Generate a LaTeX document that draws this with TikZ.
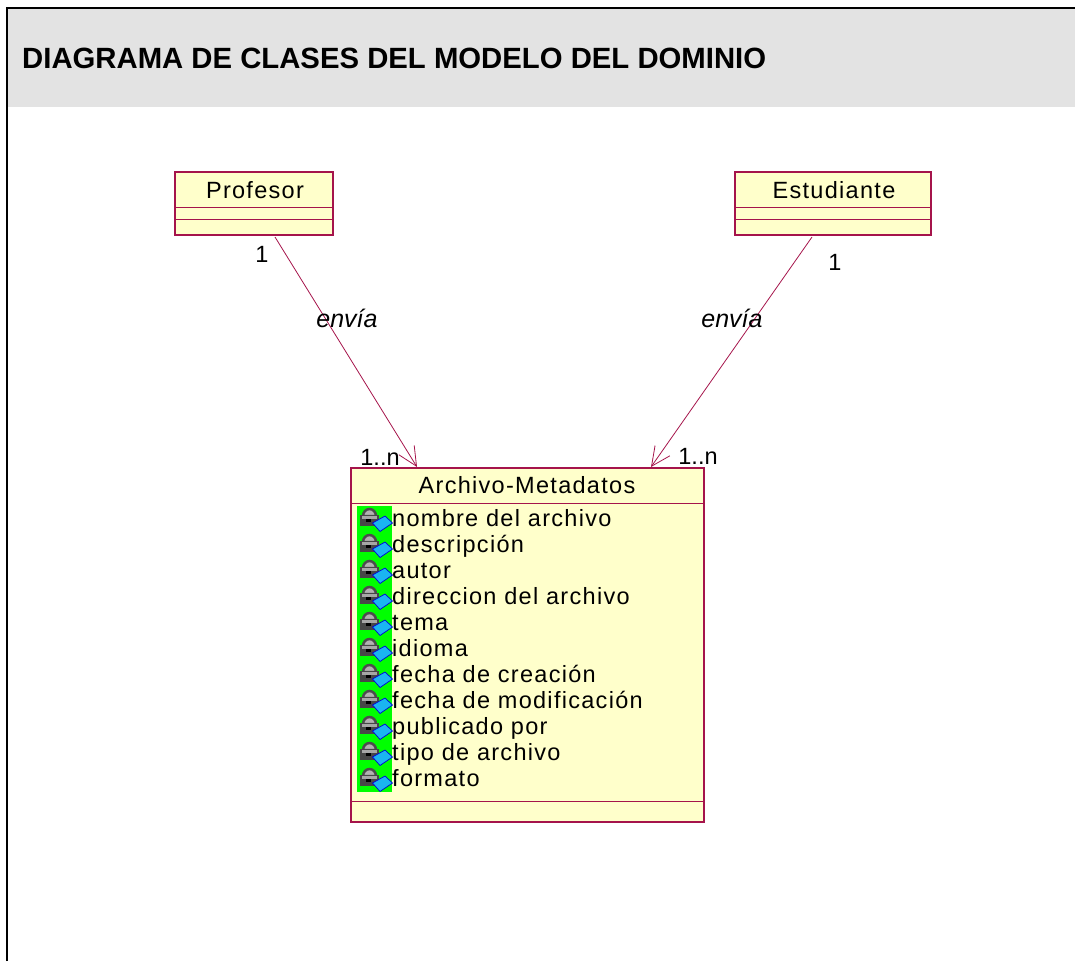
\documentclass[tikz,border=0pt]{standalone}
\usepackage{fontspec}
\setmainfont{Liberation Sans}
\newfontfamily\umlfont[LetterSpace=5.5]{Liberation Sans}
\usetikzlibrary{arrows.meta, positioning}
\definecolor{umlline}{RGB}{165,20,75}
\definecolor{umlfill}{RGB}{255,255,203}
\definecolor{bandgray}{RGB}{227,227,227}
\tikzset{
  classbox/.style={draw=umlline, fill=umlfill, line width=1.1pt},
  classsep/.style={draw=umlline, line width=0.8pt},
  classname/.style={inner sep=0pt, anchor=base, font=\umlfont\fontsize{23.5}{23.5}\selectfont},
  attr/.style={inner sep=0pt, anchor=base west, font=\umlfont\fontsize{23.5}{23.5}\selectfont},
  multi/.style={inner sep=0pt, anchor=base, font=\fontsize{23.5}{23.5}\selectfont},
  rolename/.style={inner sep=0pt, anchor=base, font=\fontsize{25}{25}\selectfont\itshape},
  assoc/.style={draw=umlline, line width=0.8pt, -{Straight Barb[length=19pt,width=18pt,line width=0.8pt]}},
  lockicon/.pic={
    \filldraw[draw=black!70, fill=black!30, line width=2.5pt] (-12,1) arc (180:360:6.5 and 7) -- cycle;
    \fill[black!72] (-15,0) rectangle (4,11);
    \fill[black!35] (-13,1) rectangle (2,4);
    \fill[black] (-9,4) rectangle (-4,7);
    \filldraw[draw=blue!85!black, fill=cyan!90!white, line width=0.7pt] (10,1) -- (17.5,8) -- (5,16.5) -- (-2.5,8) -- cycle;
  }
}
\begin{document}
\begin{tikzpicture}[x=1pt, y=-1pt]
  \useasboundingbox (0,0) rectangle (1075,961);

  % frame and header
  \fill[bandgray] (7,8) rectangle (1075,107);
  \draw[line width=2pt] (7,961) -- (7,8) -- (1075,8);
  \node[anchor=base west, inner sep=0pt, font=\fontsize{29.3}{29.3}\selectfont\bfseries] (title) at (22,68) {DIAGRAMA DE CLASES DEL MODELO DEL DOMINIO};

  % classes
  \draw[classbox] (175,172) rectangle (333,235);
  \draw[classsep] (175,207) -- (333,207);
  \draw[classsep] (175,219) -- (333,219);
  \node[classname] (profesor) at (255,198) {Profesor};

  \draw[classbox] (735,172) rectangle (931,235);
  \draw[classsep] (735,207) -- (931,207);
  \draw[classsep] (735,219) -- (931,219);
  \node[classname] (estudiante) at (834,198) {Estudiante};

  \draw[classbox] (351,468) rectangle (704,822);
  \draw[classsep] (351,503) -- (704,503);
  \draw[classsep] (351,801) -- (704,801);
  \node[classname] (archivo) at (527,493) {Archivo-Metadatos};

  % attributes
  \fill[green] (357,506) rectangle (392,792);
  \foreach \i/\t in {0/nombre del archivo, 1/descripción, 2/autor, 3/direccion del archivo,
      4/tema, 5/idioma, 6/fecha de creación, 7/fecha de modificación, 8/publicado por,
      9/tipo de archivo, 10/formato} {
    \pic at (375,{515+26*\i}) {lockicon};
    \node[attr] (attr\i) at (392,{526+26*\i}) {\t};
  }

  % associations
  \coordinate (p0) at (275,237);
  \coordinate (p1) at (417,467);
  \coordinate (e0) at (812,237);
  \coordinate (e1) at (651,467);
  \draw[assoc] (p0) -- (p1);
  \draw[assoc] (e0) -- (e1);

  \node[multi] (m1) at (262,262) {1};
  \node[multi] (m2) at (380,465) {1..n};
  \node[multi] (m3) at (835,270) {1};
  \node[multi] (m4) at (698,464) {1..n};
  \node[rolename] (r1) at (347,327) {envía};
  \node[rolename] (r2) at (732,327) {envía};
\end{tikzpicture}
\end{document}
